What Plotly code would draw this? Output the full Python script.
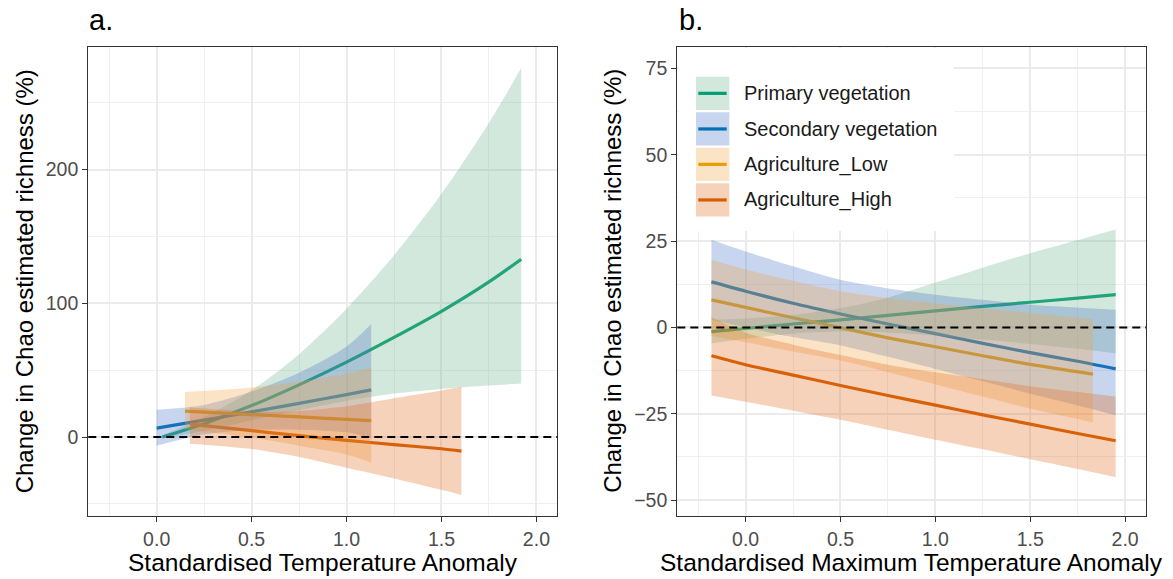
import plotly.graph_objects as go

# ---------------- Panel a: Standardised Temperature Anomaly ----------------
a_x_primary = [0.03, 0.25, 0.5, 0.75, 1.0, 1.25, 1.5, 1.75, 1.92]
a_fit_primary = [0.0, 10, 23.5, 39, 56, 74.5, 94, 116, 133]
a_lo_primary = [-1.0, 4.5, 12.5, 20, 27, 32.5, 36, 38.5, 40]
a_hi_primary = [1.5, 15, 35, 62, 96, 136, 182, 235, 276]

a_x_secondary = [0.0, 0.25, 0.5, 0.75, 1.0, 1.13]
a_fit_secondary = [6.7, 12.6, 18.8, 25.2, 31.7, 35.3]
a_lo_secondary = [-6.5, 2.0, 5.3, 5.5, 3.5, -0.8]
a_hi_secondary = [20.4, 24, 34, 48, 67.7, 84.6]

a_x_agri_low = [0.149, 0.5, 0.75, 1.0, 1.13]
a_fit_agri_low = [19.4, 16.8, 15.0, 13.2, 12.2]
a_lo_agri_low = [6.0, -0.5, -6.5, -13, -19]
a_hi_agri_low = [33.6, 37, 41.5, 47.5, 52]

a_x_agri_high = [0.175, 0.5, 0.75, 1.0, 1.25, 1.5, 1.605]
a_fit_agri_high = [9.7, 4.8, 1.0, -2.5, -5.7, -8.8, -10.5]
a_lo_agri_high = [-5.0, -9, -15, -23, -31, -39.5, -43.4]
a_hi_agri_high = [22.0, 19, 19.5, 23, 29, 34.8, 37.6]

# ------------- Panel b: Standardised Maximum Temperature Anomaly -------------
b_x = [-0.18, 0.0, 0.25, 0.5, 0.75, 1.0, 1.25, 1.5, 1.75, 1.95]
b_fit_primary = [-1.2, -0.3, 1.0, 2.2, 3.5, 4.8, 6.1, 7.3, 8.5, 9.5]
b_lo_primary = [-4.6, -3.3, -1.8, -1.2, -1.5, -2.3, -3.5, -4.8, -6.2, -7.5]
b_hi_primary = [2.2, 2.6, 3.6, 5.6, 8.7, 13, 17.3, 21.5, 25.3, 28.4]

b_fit_secondary = [13.2, 10.5, 7.0, 3.9, 1.0, -1.8, -4.6, -7.3, -9.8, -12.0]
b_lo_secondary = [2.2, 0.0, -2.8, -5.2, -8.5, -12, -15.6, -19.2, -22.6, -25.4]
b_hi_secondary = [25.4, 22, 17.7, 13.8, 11.3, 9.5, 8, 6.6, 5.8, 5.1]

b_x_agri_low = [-0.18, 0.0, 0.25, 0.5, 0.75, 1.0, 1.25, 1.5, 1.83]
b_fit_agri_low = [8.0, 5.8, 2.8, -0.1, -3.0, -5.6, -8.2, -10.7, -13.5]
b_lo_agri_low = [-2.5, -4.3, -7, -9.6, -13, -16.5, -20, -23.5, -27.5]
b_hi_agri_low = [19.6, 16.8, 13.5, 10.5, 8.5, 7, 5.5, 4.2, 2.4]

b_fit_agri_high = [-8.2, -10.8, -13.8, -16.8, -19.7, -22.5, -25.3, -28.0, -30.7, -32.8]
b_lo_agri_high = [-19.7, -21.5, -24.1, -26.7, -29.6, -32.5, -35.3, -38.2, -41, -43.4]
b_hi_agri_high = [3.0, -1.5, -5, -8, -10.8, -13, -15, -17, -18.7, -20]

land_uses = ["Primary vegetation", "Secondary vegetation", "Agriculture_Low", "Agriculture_High"]
line_colours = ["#009E73", "#0072B2", "#E69F00", "#D55E00"]
band_colours = ["rgba(108,178,138,0.30)", "rgba(72,115,198,0.30)",
                "rgba(242,162,65,0.30)", "rgba(225,105,28,0.30)"]

FONT = "Liberation Sans, Arial, sans-serif"
W, H = 1173, 579
SMOOTH = 0.8

fig = go.Figure()


def add_band(x, lo, hi, k, xa, ya):
    fig.add_trace(go.Scatter(x=x, y=lo, mode="lines", line=dict(width=0, shape="spline", smoothing=SMOOTH),
                             xaxis=xa, yaxis=ya, showlegend=False, hoverinfo="skip"))
    fig.add_trace(go.Scatter(x=x, y=hi, mode="lines", line=dict(width=0, shape="spline", smoothing=SMOOTH),
                             fill="tonexty", fillcolor=band_colours[k],
                             xaxis=xa, yaxis=ya, showlegend=False, hoverinfo="skip"))


def add_line(x, y, k, xa, ya):
    fig.add_trace(go.Scatter(x=x, y=y, mode="lines", name=land_uses[k],
                             line=dict(color=line_colours[k], width=3.2, shape="spline", smoothing=SMOOTH),
                             xaxis=xa, yaxis=ya, showlegend=False))


# fitted lines first, confidence ribbons drawn over them
add_line(a_x_primary, a_fit_primary, 0, "x", "y")
add_line(a_x_secondary, a_fit_secondary, 1, "x", "y")
add_line(a_x_agri_low, a_fit_agri_low, 2, "x", "y")
add_line(a_x_agri_high, a_fit_agri_high, 3, "x", "y")
add_band(a_x_primary, a_lo_primary, a_hi_primary, 0, "x", "y")
add_band(a_x_secondary, a_lo_secondary, a_hi_secondary, 1, "x", "y")
add_band(a_x_agri_low, a_lo_agri_low, a_hi_agri_low, 2, "x", "y")
add_band(a_x_agri_high, a_lo_agri_high, a_hi_agri_high, 3, "x", "y")

add_line(b_x, b_fit_primary, 0, "x2", "y2")
add_line(b_x, b_fit_secondary, 1, "x2", "y2")
add_line(b_x_agri_low, b_fit_agri_low, 2, "x2", "y2")
add_line(b_x, b_fit_agri_high, 3, "x2", "y2")
add_band(b_x, b_lo_primary, b_hi_primary, 0, "x2", "y2")
add_band(b_x, b_lo_secondary, b_hi_secondary, 1, "x2", "y2")
add_band(b_x_agri_low, b_lo_agri_low, b_hi_agri_low, 2, "x2", "y2")
add_band(b_x, b_lo_agri_high, b_hi_agri_high, 3, "x2", "y2")

# plot-area geometry in pixels
a_left, a_right = 88.3, 557.3
b_left, b_right = 677.3, 1146.0
p_top, p_bottom = 46.7, 516.0

axis_common = dict(
    showline=True, mirror=True, linecolor="#333333", linewidth=1.3,
    ticks="outside", ticklen=5, tickwidth=1.2, tickcolor="#333333",
    tickfont=dict(family=FONT, size=19.5, color="#4d4d4d"),
    showgrid=True, gridcolor="#ebebeb", gridwidth=1.5,
    zeroline=False,
)
x_common = dict(axis_common, range=[-0.36, 2.11], tickmode="array",
                tickvals=[0, 0.5, 1.0, 1.5, 2.0], ticktext=["0.0", "0.5", "1.0", "1.5", "2.0"],
                minor=dict(tickmode="array", tickvals=[-0.25, 0.25, 0.75, 1.25, 1.75],
                           showgrid=True, gridcolor="#f0f0f0", gridwidth=1.2, ticks=""))

fig.update_layout(
    width=W, height=H, autosize=False,
    margin=dict(l=0, r=0, t=0, b=0),
    paper_bgcolor="white", plot_bgcolor="white",
    showlegend=False,
    xaxis=dict(x_common, domain=[a_left / W, a_right / W], anchor="y"),
    yaxis=dict(axis_common, domain=[1 - p_bottom / H, 1 - p_top / H], anchor="x",
               range=[-59.1, 292], tickmode="array", tickvals=[0, 100, 200],
               minor=dict(tickmode="array", tickvals=[-50, 50, 150, 250],
                          showgrid=True, gridcolor="#f0f0f0", gridwidth=1.2, ticks="")),
    xaxis2=dict(x_common, domain=[b_left / W, b_right / W], anchor="y2"),
    yaxis2=dict(axis_common, domain=[1 - p_bottom / H, 1 - p_top / H], anchor="x2",
                range=[-54.6, 81.3], tickmode="array", tickvals=[-50, -25, 0, 25, 50, 75],
                minor=dict(tickmode="array", tickvals=[-37.5, -12.5, 12.5, 37.5, 62.5],
                           showgrid=True, gridcolor="#f0f0f0", gridwidth=1.2, ticks="")),
)

shapes = []
# dashed reference lines at zero change
for xa, ya in (("x", "y"), ("x2", "y2")):
    shapes.append(dict(type="line", xref=f"{xa} domain", yref=ya, x0=0, x1=1, y0=0, y1=0,
                       line=dict(color="black", width=2, dash="8px,5px"), layer="above"))

# legend background (hides the grid behind the key), kept just inside the panel border
legend_right, legend_bottom = 954.0, 231.0
shapes.append(dict(type="rect", xref="paper", yref="paper",
                   x0=(b_left + 1.2) / W, x1=legend_right / W,
                   y0=1 - legend_bottom / H, y1=1 - (p_top + 1.2) / H,
                   fillcolor="white", line=dict(width=0), layer="above"))

# legend keys
key_x0, key_x1 = 696.0, 729.3
key_tops = [76.7, 112.3, 147.7, 183.3]
key_h = 33.3
annotations = []
for k, top in enumerate(key_tops):
    shapes.append(dict(type="rect", xref="paper", yref="paper",
                       x0=key_x0 / W, x1=key_x1 / W, y0=1 - (top + key_h) / H, y1=1 - top / H,
                       fillcolor=band_colours[k], line=dict(width=0), layer="above"))
    yc = top + key_h / 2
    shapes.append(dict(type="line", xref="paper", yref="paper",
                       x0=(key_x0 + 2.3) / W, x1=(key_x1 - 2.6) / W, y0=1 - yc / H, y1=1 - yc / H,
                       line=dict(color=line_colours[k], width=3.2), layer="above"))
    annotations.append(dict(text=land_uses[k], xref="paper", yref="paper", x=741.5 / W, y=1 - yc / H,
                            xanchor="left", yanchor="middle", showarrow=False,
                            font=dict(family=FONT, size=20, color="#1a1a1a")))

# panel tags
for tag, xpix in (("a.", 86.5), ("b.", 676.5)):
    annotations.append(dict(text=tag, xref="paper", yref="paper", x=xpix / W, y=1 - 20 / H,
                            xanchor="left", yanchor="middle", showarrow=False,
                            font=dict(family=FONT, size=29, color="black")))

# axis titles
for text, xc in (("Standardised Temperature Anomaly", (a_left + a_right) / 2),
                 ("Standardised Maximum Temperature Anomaly", (b_left + b_right) / 2)):
    annotations.append(dict(text=text, xref="paper", yref="paper", x=xc / W, y=1 - 562 / H,
                            xanchor="center", yanchor="middle", showarrow=False,
                            font=dict(family=FONT, size=24.5, color="black")))
for xc in (24.0, 612.5):
    annotations.append(dict(text="Change in Chao estimated richness (%)", xref="paper", yref="paper",
                            x=xc / W, y=1 - (p_top + p_bottom) / 2 / H, textangle=-90,
                            xanchor="center", yanchor="middle", showarrow=False,
                            font=dict(family=FONT, size=24, color="black")))

fig.update_layout(shapes=shapes, annotations=annotations)
fig.write_html("out.html")
